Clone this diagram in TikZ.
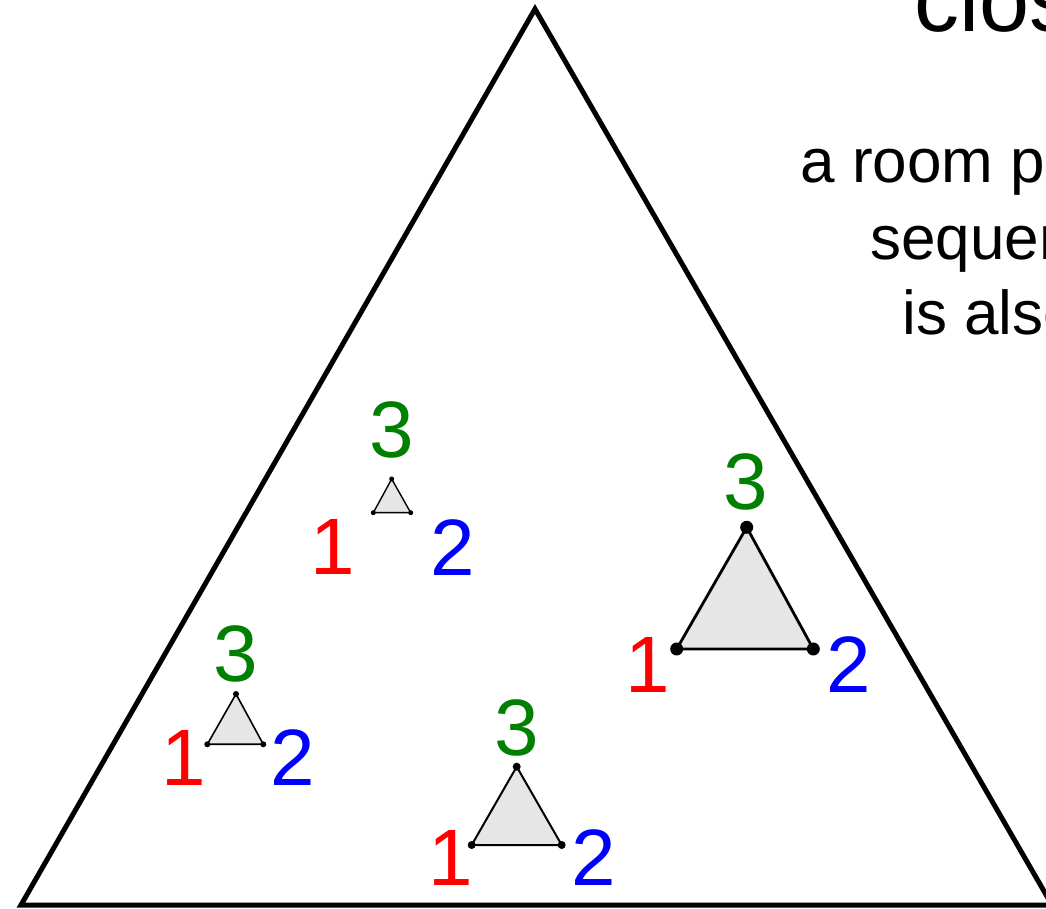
\documentclass[tikz,border=0pt]{standalone}
\usepackage{fontspec}
\setmainfont{Liberation Sans}
\definecolor{lblred}{RGB}{255,0,0}
\definecolor{lblblue}{RGB}{0,0,255}
\definecolor{lblgreen}{RGB}{0,128,0}
\definecolor{trifill}{RGB}{230,230,230}
\begin{document}
\begin{tikzpicture}[x=0.5pt,y=-0.5pt,
  big/.style={line width=2.5pt,line join=miter},
  tri/.style={fill=trifill,draw=black,line join=round},
  dot/.style={circle,fill=black,inner sep=0pt},
  lbl/.style={anchor=base,inner sep=0pt,font=\fontsize{40}{48}\selectfont},
  one/.style={lbl,text=lblred},
  two/.style={lbl,text=lblblue},
  three/.style={lbl,text=lblgreen},
  body/.style={anchor=base west,inner sep=0pt,font=\fontsize{31}{36}\selectfont},
  head/.style={anchor=base west,inner sep=0pt,font=\fontsize{45}{52}\selectfont}]
\useasboundingbox (0,0) rectangle (1046,909);
\clip (0,0) rectangle (1046,909);
\fill[white] (0,0) rectangle (1046,909);
% big triangle
\coordinate (BA) at (535,9);
\coordinate (BL) at (21,905);
\coordinate (BR) at (1052,905);
\draw[big] (BA) -- (BL) -- (BR) -- cycle;
% text (cut at right)
\node[head] (t0) at (914,32) {closed};
\node[body] (t1) at (800,183) {a room pr};
\node[body] (t2) at (870,260) {sequen};
\node[body] (t3) at (902,335) {is also};
% T1
\coordinate (aA) at (391.7,479);
\coordinate (aL) at (373.3,512.7);
\coordinate (aR) at (410.7,512.7);
\draw[tri,line width=0.7pt] (aA) -- (aL) -- (aR) -- cycle;
\foreach \p in {aA,aL,aR} \node[dot,minimum size=2.5pt] at (\p) {};
\node[three] (a3) at (392,458) {3};
\node[one] (a1) at (333,575) {1};
\node[two] (a2) at (453,576) {2};
% T2
\coordinate (bA) at (746.7,527.3);
\coordinate (bL) at (676.7,649);
\coordinate (bR) at (813.3,649);
\draw[tri,line width=1.4pt] (bA) -- (bL) -- (bR) -- cycle;
\foreach \p in {bA,bL,bR} \node[dot,minimum size=6.5pt] at (\p) {};
\node[three] (b3) at (746,510) {3};
\node[one] (b1) at (647.5,692) {1};
\node[two] (b2) at (849,693) {2};
% T3
\coordinate (cA) at (236,694);
\coordinate (cL) at (207.3,744.3);
\coordinate (cR) at (263.3,744.3);
\draw[tri,line width=0.8pt] (cA) -- (cL) -- (cR) -- cycle;
\foreach \p in {cA,cL,cR} \node[dot,minimum size=3pt] at (\p) {};
\node[three] (c3) at (236,682) {3};
\node[one] (c1) at (183.5,785) {1};
\node[two] (c2) at (293,785) {2};
% T4
\coordinate (dA) at (516.7,766.7);
\coordinate (dL) at (471.7,845);
\coordinate (dR) at (561.7,845);
\draw[tri,line width=1pt] (dA) -- (dL) -- (dR) -- cycle;
\foreach \p in {dA,dL,dR} \node[dot,minimum size=4pt] at (\p) {};
\node[three] (d3) at (516.5,755) {3};
\node[one] (d1) at (450.5,885) {1};
\node[two] (d2) at (594,885) {2};
\end{tikzpicture}
\end{document}
